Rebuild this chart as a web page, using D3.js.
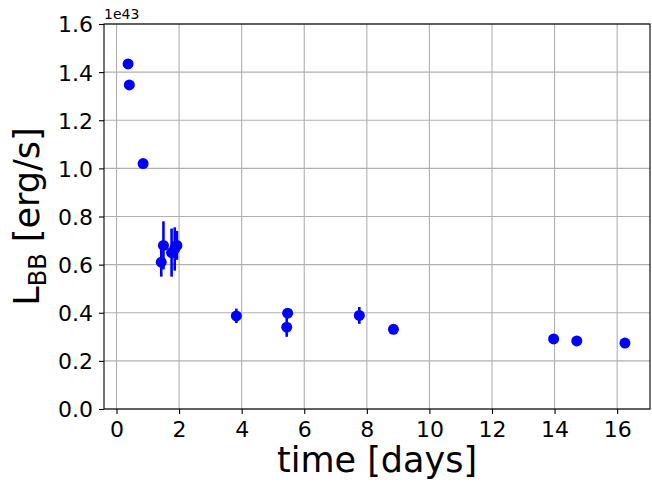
<!DOCTYPE html>
<html>
<head>
<meta charset="utf-8">
<script src="https://cdn.jsdelivr.net/npm/d3@7"></script>
<style>
  body { margin: 0; background: #fff; }
  svg { display: block; font-family: "DejaVu Sans", sans-serif; }
</style>
</head>
<body>
<svg width="652" height="483"></svg>
<script>
// luminosity in units of 1e43 erg/s
const timeDays = [0.37, 0.41, 0.85, 1.43, 1.50, 1.76, 1.86, 1.93, 3.83, 5.47, 5.44, 7.76, 8.85, 13.97, 14.71, 16.25];
const lumBB    = [1.434, 1.347, 1.02, 0.61, 0.68, 0.65, 0.665, 0.68, 0.387, 0.398, 0.34, 0.389, 0.331, 0.291, 0.283, 0.274];
const lumErr   = [0.01, 0.01, 0.01, 0.06, 0.10, 0.10, 0.09, 0.06, 0.03, 0.01, 0.04, 0.035, 0.01, 0.01, 0.01, 0.01];
const xTicks = [0, 2, 4, 6, 8, 10, 12, 14, 16];
const yTicks = [0, 0.2, 0.4, 0.6, 0.8, 1.0, 1.2, 1.4, 1.6];

const svg = d3.select('svg');
const pLeft = 104, pRight = 650, pTop = 24, pBottom = 409;

const x = d3.scaleLinear().domain([-0.4, 17.05]).range([pLeft, pRight]);
const y = d3.scaleLinear().domain([0, 1.6]).range([pBottom, pTop]);

// grid
const grid = svg.append('g');
grid.selectAll('.vg').data(xTicks).enter().append('line')
    .attr('x1', d => x(d)).attr('x2', d => x(d))
    .attr('y1', pTop).attr('y2', pBottom)
    .attr('stroke', '#b0b0b0').attr('stroke-width', 1.1);
grid.selectAll('.hg').data(yTicks).enter().append('line')
    .attr('x1', pLeft).attr('x2', pRight)
    .attr('y1', d => y(d)).attr('y2', d => y(d))
    .attr('stroke', '#b0b0b0').attr('stroke-width', 1.1);

// axes
let xAxis = svg.append('g')
    .attr('transform', 'translate(0,' + pBottom + ')')
    .call(d3.axisBottom(x).tickValues(xTicks).tickFormat(d3.format('d')).tickSize(5).tickPadding(7));
let yAxis = svg.append('g')
    .attr('transform', 'translate(' + pLeft + ',0)')
    .call(d3.axisLeft(y).tickValues(yTicks).tickFormat(d3.format('.1f')).tickSize(5).tickPadding(6));

[xAxis, yAxis].forEach(a => {
    a.select('.domain').remove();
    a.selectAll('line').attr('stroke', '#000').attr('stroke-width', 1.1);
    a.selectAll('text').attr('font-size', 22).attr('fill', '#000')
        .attr('font-family', '"DejaVu Sans", sans-serif');
});
yAxis.selectAll('text').attr('dy', '0.36em');

// frame
svg.append('rect')
    .attr('x', pLeft).attr('y', pTop)
    .attr('width', pRight - pLeft).attr('height', pBottom - pTop)
    .attr('fill', 'none').attr('stroke', '#000').attr('stroke-width', 1.1);

// error bars + points
const idx = d3.range(timeDays.length);
svg.append('g').selectAll('line').data(idx).enter().append('line')
    .attr('x1', i => x(timeDays[i])).attr('x2', i => x(timeDays[i]))
    .attr('y1', i => y(lumBB[i] - lumErr[i])).attr('y2', i => y(lumBB[i] + lumErr[i]))
    .attr('stroke', '#0000ff').attr('stroke-width', 2.6);
svg.append('g').selectAll('circle').data(idx).enter().append('circle')
    .attr('cx', i => x(timeDays[i])).attr('cy', i => y(lumBB[i]))
    .attr('r', 5.5).attr('fill', '#0000ff');

// offset text
svg.append('text').attr('x', pLeft).attr('y', 19)
    .attr('font-size', 14).text('1e43');

// labels
svg.append('text')
    .attr('x', (pLeft + pRight) / 2).attr('y', 472)
    .attr('text-anchor', 'middle').attr('font-size', 35)
    .text('time [days]');

let yl = svg.append('text')
    .attr('transform', 'translate(39,' + ((pTop + pBottom) / 2) + ') rotate(-90)')
    .attr('text-anchor', 'middle').attr('font-size', 35);
yl.append('tspan').text('L');
yl.append('tspan').attr('font-size', 24).attr('dy', 7).text('BB');
yl.append('tspan').attr('dy', -7).text(' [erg/s]');
</script>
</body>
</html>
